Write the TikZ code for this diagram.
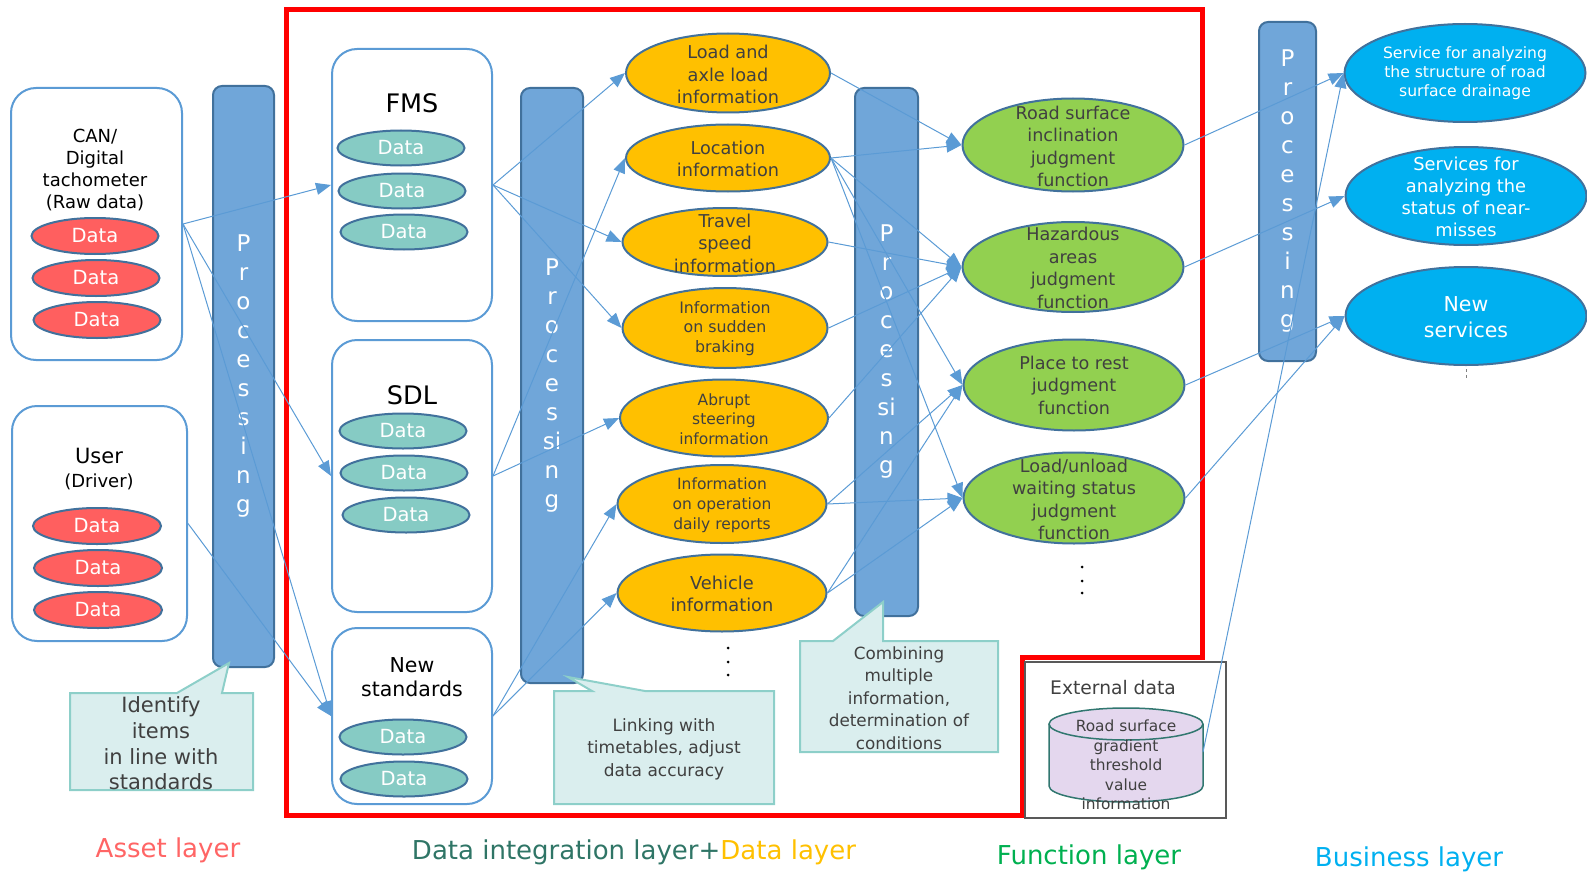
\documentclass[tikz,border=0pt]{standalone}
\usepackage{fontspec}
\setmainfont{DejaVu Sans}
\usetikzlibrary{shapes.geometric, arrows.meta, positioning, calc}
\definecolor{lineBlue}{RGB}{91,155,213}
\definecolor{edgeBlue}{RGB}{65,113,156}
\definecolor{barBlue}{RGB}{112,166,217}
\definecolor{assetRed}{RGB}{255,95,95}
\definecolor{dataTeal}{RGB}{134,203,196}
\definecolor{infoOrange}{RGB}{255,192,0}
\definecolor{funcGreen}{RGB}{146,208,80}
\definecolor{svcBlue}{RGB}{0,176,240}
\definecolor{noteFill}{RGB}{218,238,238}
\definecolor{noteEdge}{RGB}{141,207,201}
\definecolor{cylFill}{RGB}{228,215,238}
\definecolor{cylEdge}{RGB}{49,119,112}
\definecolor{textGray}{RGB}{64,64,64}
\definecolor{extGray}{RGB}{89,89,89}
\definecolor{layerTeal}{RGB}{47,117,102}
\definecolor{layerGreen}{RGB}{0,176,80}
\definecolor{layerRed}{RGB}{255,101,101}
\newcommand{\fsz}[2]{\fontsize{#1}{#2}\selectfont}
\tikzset{
  srcbox/.style={draw=lineBlue, line width=2pt, rounded corners=25pt, fill=white, inner sep=0pt},
  boxlabel/.style={align=center, text=black, inner sep=0pt},
  datared/.style={ellipse, draw=edgeBlue, line width=2pt, fill=assetRed, text=white, minimum width=127pt, minimum height=36pt, inner sep=0pt, font=\fsz{19.5}{22}},
  datateal/.style={datared, fill=dataTeal, minimum height=35pt},
  procbar/.style={draw=edgeBlue, line width=2pt, fill=barBlue, rounded corners=9pt, text=white, align=center, inner sep=0pt, font=\fsz{23}{29}},
  infonode/.style={ellipse, draw=edgeBlue, line width=2pt, fill=infoOrange, inner sep=0pt},
  funcnode/.style={infonode, fill=funcGreen, minimum width=221pt, minimum height=92pt},
  svcnode/.style={infonode, fill=svcBlue, minimum width=241pt, minimum height=98pt},
  ovaltext/.style={align=center, text=textGray, inner sep=0pt},
  notebox/.style={draw=noteEdge, line width=2pt, fill=noteFill, line join=miter},
  conn/.style={draw=lineBlue, line width=1pt, -{Triangle[length=15pt,width=12pt]}},
  layerlabel/.style={font=\fsz{26}{30}, inner sep=0pt}
}
\begin{document}
\begin{tikzpicture}[x=1pt, y=-1pt]
  \useasboundingbox (0,0) rectangle (1587,872);

  % frame of data integration / data / function layers
  \draw[red, line width=5pt, line join=miter] (286,10) -- (1202,10) -- (1202,657) -- (1022,657) -- (1022,815) -- (286,815) -- cycle;

  % asset layer
  \node[srcbox, minimum width=171pt, minimum height=272pt] (can) at (96.5,224) {};
  \node[boxlabel, font=\fsz{18}{22}] (canLbl) at (95,170) {CAN/\\Digital\\tachometer\\(Raw data)};
  \node[datared] (can1) at (95,236) {Data};
  \node[datared] (can2) at (96,278) {Data};
  \node[datared] (can3) at (97,320) {Data};

  \node[srcbox, minimum width=175pt, minimum height=235pt] (user) at (99.5,523.5) {};
  \node[boxlabel, font=\fsz{21}{24}] (userLbl) at (99,469) {User\\{\fsz{18}{24}(Driver)}};
  \node[datared, minimum width=128pt] (user1) at (97,526) {Data};
  \node[datared, minimum width=128pt] (user2) at (98,568) {Data};
  \node[datared, minimum width=128pt] (user3) at (98,610) {Data};

  \node[procbar, minimum width=61pt, minimum height=581pt] (proc1) at (243.5,376.5) {P\\r\\o\\c\\e\\s\\s\\i\\n\\g};

  \draw[notebox] (70,693) -- (177,693) -- (229,663) -- (222,693) -- (253,693) -- (253,790) -- (70,790) -- cycle;
  \node[ovaltext, font=\fsz{21}{25.7}] (note1) at (161,743.5) {Identify\\items\\in line with\\standards};

  % data integration layer
  \node[srcbox, minimum width=160pt, minimum height=272pt] (fms) at (412,185) {};
  \node[boxlabel, font=\fsz{25.5}{30}] (fmsLbl) at (412,103) {FMS};
  \node[datateal] (fms1) at (401,148) {Data};
  \node[datateal] (fms2) at (402,191) {Data};
  \node[datateal] (fms3) at (404,232) {Data};

  \node[srcbox, minimum width=160pt, minimum height=272pt] (sdl) at (412,476) {};
  \node[boxlabel, font=\fsz{25.5}{30}] (sdlLbl) at (412,395) {SDL};
  \node[datateal] (sdl1) at (403,431) {Data};
  \node[datateal] (sdl2) at (404,473) {Data};
  \node[datateal] (sdl3) at (406,515) {Data};

  \node[srcbox, minimum width=160pt, minimum height=176pt] (newstd) at (412,716) {};
  \node[boxlabel, font=\fsz{20.5}{24}] (newstdLbl) at (412,677) {New\\standards};
  \node[datateal] (newstd1) at (403,737) {Data};
  \node[datateal] (newstd2) at (404,779) {Data};

  \node[procbar, minimum width=62pt, minimum height=595pt] (proc2) at (552,385.5) {P\\r\\o\\c\\e\\s\\si\\n\\g};

  \draw[notebox] (554,691) -- (592,691) -- (568,677) -- (645,691) -- (774,691) -- (774,804) -- (554,804) -- cycle;
  \node[ovaltext, font=\fsz{17}{22.5}] (note2) at (664,749) {Linking with\\timetables, adjust\\data accuracy};

  % data layer
  \node[infonode, minimum width=204pt, minimum height=79pt] (load) at (728,73) {};
  \node[ovaltext, font=\fsz{17.7}{22.5}] (loadTxt) at (728,74.5) {Load and\\axle load\\information};
  \node[infonode, minimum width=204pt, minimum height=67pt] (loc) at (728,158) {};
  \node[ovaltext, font=\fsz{17.7}{22.5}] (locTxt) at (728,159) {Location\\information};
  \node[infonode, minimum width=205pt, minimum height=68pt] (speed) at (725,242) {};
  \node[ovaltext, font=\fsz{17.7}{22.5}] (speedTxt) at (725,243) {Travel\\speed\\information};
  \node[infonode, minimum width=205pt, minimum height=80pt] (brake) at (725,328) {};
  \node[ovaltext, font=\fsz{15.8}{19.5}] (brakeTxt) at (725,328.5) {Information\\on sudden\\braking};
  \node[infonode, minimum width=208pt, minimum height=77pt] (steer) at (724,418) {};
  \node[ovaltext, font=\fsz{15.5}{19.5}] (steerTxt) at (724,419) {Abrupt\\steering\\information};
  \node[infonode, minimum width=209pt, minimum height=78pt] (daily) at (722,504) {};
  \node[ovaltext, font=\fsz{15.5}{20}] (dailyTxt) at (722,505) {Information\\on operation\\daily reports};
  \node[infonode, minimum width=209pt, minimum height=77pt] (vehicle) at (722,593) {};
  \node[ovaltext, font=\fsz{17.8}{22}] (vehicleTxt) at (722,594) {Vehicle\\information};
  \fill (728,648) circle[radius=1.5pt] (728,662) circle[radius=1.5pt] (728,675) circle[radius=1.5pt];

  \node[procbar, minimum width=63pt, minimum height=528pt] (proc3) at (886.5,352) {P\\r\\o\\c\\e\\s\\si\\n\\g};

  \draw[notebox] (800,641) -- (833,641) -- (883,602) -- (883,641) -- (998,641) -- (998,752) -- (800,752) -- cycle;
  \node[ovaltext, font=\fsz{16.8}{22.5}] (note3) at (899,698) {Combining\\multiple\\information,\\determination of\\conditions};

  % function layer
  \node[funcnode, minimum height=93pt] (road) at (1073,145) {};
  \node[ovaltext, font=\fsz{17.6}{22.5}] (roadTxt) at (1073,146.5) {Road surface\\inclination\\judgment\\function};
  \node[funcnode, minimum height=90pt] (hazard) at (1073,267) {};
  \node[ovaltext, font=\fsz{17.6}{22.5}] (hazardTxt) at (1073,268) {Hazardous\\areas\\judgment\\function};
  \node[funcnode, minimum height=91pt] (rest) at (1074,385) {};
  \node[ovaltext, font=\fsz{17.6}{22.5}] (restTxt) at (1074,385) {Place to rest\\judgment\\function};
  \node[funcnode, minimum height=91pt] (loadun) at (1074,498) {};
  \node[ovaltext, font=\fsz{17.6}{22.5}] (loadunTxt) at (1074,499.5) {Load/unload\\waiting status\\judgment\\function};
  \fill (1082,567) circle[radius=1.5pt] (1082,581) circle[radius=1.5pt] (1082,593) circle[radius=1.5pt];

  % external data
  \node[draw=extGray, line width=2pt, minimum width=201pt, minimum height=156pt, inner sep=0pt] (ext) at (1125.5,740) {};
  \node[ovaltext, font=\fsz{18.7}{22}] (extLbl) at (1113,688) {External data};
  \fill[cylFill] (1049,724) -- (1049,786) arc[start angle=180, end angle=360, x radius=77pt, y radius=16pt] -- (1203,724) -- cycle;
  \draw[cylEdge, line width=1.5pt] (1049,724) -- (1049,786) arc[start angle=180, end angle=360, x radius=77pt, y radius=16pt] -- (1203,724);
  \draw[cylEdge, line width=1.5pt, fill=cylFill] (1126,724) ellipse[x radius=77pt, y radius=16pt];
  \node[ovaltext, font=\fsz{15.4}{19.5}] (cylTxt) at (1126,765) {Road surface\\gradient\\threshold\\value\\information};
  \coordinate (cylR) at (1203,752);

  % business layer
  \node[procbar, minimum width=57pt, minimum height=339pt] (proc4) at (1287.5,191.5) {P\\r\\o\\c\\e\\s\\s\\i\\n\\g};
  \node[svcnode] (drain) at (1465,73) {};
  \node[ovaltext, text=white, font=\fsz{15.6}{19}] (drainTxt) at (1465,73) {Service for analyzing\\the structure of road\\surface drainage};
  \node[svcnode] (near) at (1466,196) {};
  \node[ovaltext, text=white, font=\fsz{17.8}{22}] (nearTxt) at (1466,196.5) {Services for\\analyzing the\\status of near-\\misses};
  \node[svcnode] (newsvc) at (1466,316) {};
  \node[ovaltext, text=white, font=\fsz{20.5}{26}] (newsvcTxt) at (1466,317) {New\\services};
  \draw[gray, dashed, line width=0.6pt] (newsvc.south) ++(0,3) coordinate (tickA) -- ++(0,10) coordinate (tickB);

  % connectors
  \draw[conn] (can.east) -- (fms.west);
  \draw[conn] (can.east) -- (sdl.west);
  \draw[conn] (can.east) -- (newstd.west);
  \draw[conn] (user.east) -- (newstd.west);
  \draw[conn] (fms.east) -- (load.west);
  \draw[conn] (fms.east) -- (speed.west);
  \draw[conn] (fms.east) -- (brake.west);
  \draw[conn] (sdl.east) -- (loc.west);
  \draw[conn] (sdl.east) -- (steer.west);
  \draw[conn] (newstd.east) -- (daily.west);
  \draw[conn] (newstd.east) -- (vehicle.west);
  \draw[conn] (load.east) -- (road.west);
  \draw[conn] (loc.east) -- (road.west);
  \draw[conn] (loc.east) -- (hazard.west);
  \draw[conn] (loc.east) -- (rest.west);
  \draw[conn] (loc.east) -- (loadun.west);
  \draw[conn] (speed.east) -- (hazard.west);
  \draw[conn] (brake.east) -- (hazard.west);
  \draw[conn] (steer.east) -- (hazard.west);
  \draw[conn] (daily.east) -- (rest.west);
  \draw[conn] (daily.east) -- (loadun.west);
  \draw[conn] (vehicle.east) -- (rest.west);
  \draw[conn] (vehicle.east) -- (loadun.west);
  \draw[conn] (road.east) -- (drain.west);
  \draw[conn] (hazard.east) -- (near.west);
  \draw[conn] (rest.east) -- (newsvc.west);
  \draw[conn] (loadun.east) -- (newsvc.west);
  \draw[conn] (cylR) -- (drain.west);

  % layer names
  \node[layerlabel, text=layerRed] (assetLayer) at (168,850) {Asset layer};
  \node[layerlabel] (dataLayer) at (634,852) {{\color{layerTeal}Data integration layer+}{\color{infoOrange}Data layer}};
  \node[layerlabel, text=layerGreen] (funcLayer) at (1089,857) {Function layer};
  \node[layerlabel, text=svcBlue] (busLayer) at (1409,859) {Business layer};
\end{tikzpicture}
\end{document}
